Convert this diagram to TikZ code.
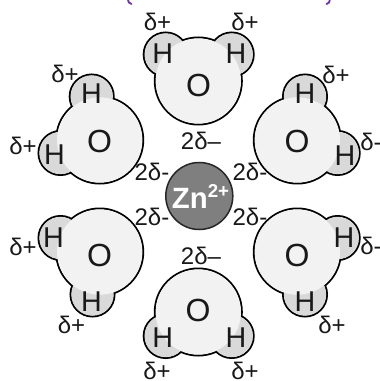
\documentclass[tikz,border=0pt]{standalone}
\usepackage{fontspec}
\setmainfont{Liberation Sans}
\definecolor{hgrey}{HTML}{D9D9D9}
\definecolor{ogrey}{HTML}{F2F2F2}
\definecolor{zngrey}{HTML}{7F7F7F}
\definecolor{topviolet}{HTML}{7030A0}
\newlength{\pxu}\setlength{\pxu}{0.75pt}
\tikzset{
  oxytext/.style={font=\fontsize{24}{25}\selectfont,inner sep=0pt,text=black!90},
  hydtext/.style={font=\fontsize{21.5}{23}\selectfont,inner sep=0pt,text=black!90},
  chargetext/.style={font=\fontsize{18}{19}\selectfont,inner sep=0pt,text=black!90},
  ionfill/.style={circle,minimum size=67\pxu,inner sep=0pt,draw=black!85,line width=1.5\pxu,fill=zngrey},
  fragment/.style={draw=topviolet,line width=1.8\pxu,line cap=round},
}
\newcommand{\water}[3]{%
  \draw[line width=2\pxu,black] #1 circle (43.5) #2 circle (22) #3 circle (22);
  \fill[hgrey] #2 circle (21.2) #3 circle (21.2);
  \fill[ogrey] #1 circle (42.7);
}
\begin{document}
\begin{tikzpicture}[x=0.75pt,y=-0.75pt]
\useasboundingbox (0,0) rectangle (379,381);
\draw[fragment] (127.8,-1) .. controls (128,2) and (129,3.5) .. (131.5,4);
\draw[fragment] (330,-1) .. controls (329.8,2) and (329,3.5) .. (326.5,4);
\water{(198.3,81)}{(165.7,54.5)}{(231.7,54.5)}
\water{(99.7,140)}{(91.7,96.5)}{(60.5,153)}
\water{(297.3,140)}{(305,96.5)}{(337.7,153)}
\water{(99.7,252)}{(60.5,238)}{(92.5,294.5)}
\water{(297.3,252)}{(337.7,238)}{(305,294.5)}
\water{(198.3,312)}{(165.7,336)}{(231.7,336)}
\node[ionfill] (zn) at (199.3,196) {};
\node[inner sep=0pt,text=white,font=\fontsize{22}{23}\bfseries\selectfont] (znlabel) at (200.5,196.5) {Zn\raisebox{8pt}{\fontsize{14}{15}\selectfont 2+}};
\foreach \n/\x/\y/\t in {o1/198.5/85.5/O,o2/99.5/141/O,o3/297/141/O,o4/99.5/255/O,o5/297/255/O,o6/198/310/O}
  \node[oxytext] (\n) at (\x,\y) {\t};
\foreach \n/\x/\y/\t in {
 h1a/162.7/54/H,h1b/236/54/H,
 h2a/91.5/93.5/H,h2b/54.5/155/H,
 h3a/305/93.5/H,h3b/345/156/H,
 h4a/53.5/238/H,h4b/91.5/302/H,
 h5a/344/238/H,h5b/305/302/H,
 h6a/162.7/338/H,h6b/236/338/H}
  \node[hydtext] (\n) at (\x,\y) {\t};
\foreach \n/\x/\y/\t in {
 d1a/157.5/22/δ+,d1b/245/22/δ+,
 d2a/65/74/δ+,d2b/23/146/δ+,
 d3a/336/75/δ+,d3b/371/142/δ-,
 d4a/23/247/δ+,d4b/71.5/325/δ+,
 d5a/371/246/δ-,d5b/332/325/δ+,
 d6a/157/370.5/δ+,d6b/245/370.5/δ+,
 q1/201/141/2δ–,q2/152/172/2δ-,q3/250/172/2δ-,
 q4/152/217/2δ-,q5/250/217/2δ-,q6/201/256/2δ–}
  \node[chargetext] (\n) at (\x,\y) {\t};
\end{tikzpicture}
\end{document}
